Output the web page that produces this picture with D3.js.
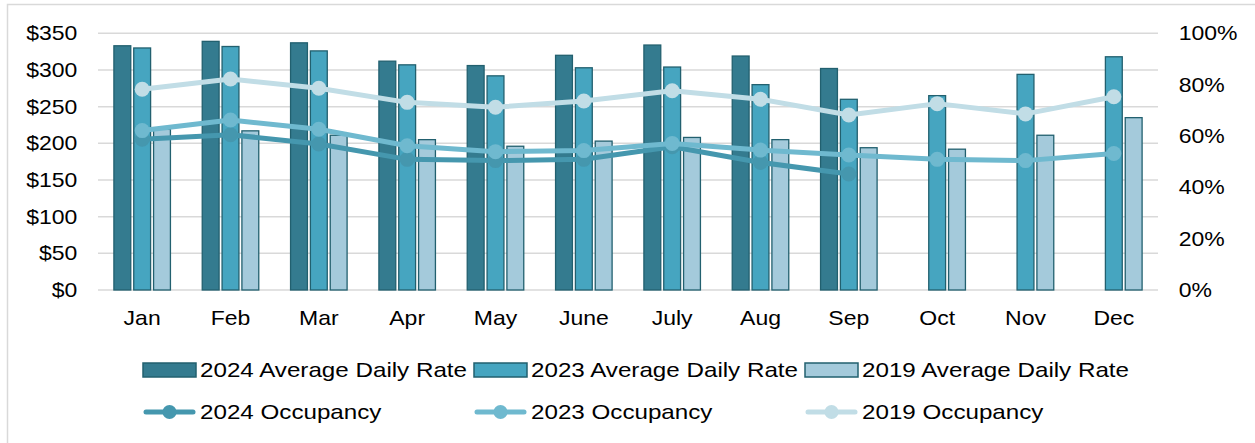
<!DOCTYPE html>
<html>
<head>
<meta charset="utf-8">
<script src="https://cdn.jsdelivr.net/npm/d3@7"></script>
<style>
  html, body { margin: 0; padding: 0; background: #fff; }
  svg { display: block; font-family: "Liberation Sans", Arial, sans-serif; }
  .axis path { display: none; }
  .axis text { font-size: 20px; fill: #000; }
</style>
</head>
<body>
<div id="chart"></div>
<script>
"use strict";

const months = ["Jan", "Feb", "Mar", "Apr", "May", "June", "July", "Aug", "Sep", "Oct", "Nov", "Dec"];

const adr2024 = [333, 339, 337, 312, 306, 320, 334, 319, 302, null, null, null];
const adr2023 = [330, 332, 326, 307, 292, 303, 304, 280, 260, 265, 294, 318];
const adr2019 = [219, 217, 211, 205, 196, 203, 208, 205, 194, 192, 211, 235];

const occ2024 = [0.587, 0.605, 0.569, 0.509, 0.504, 0.509, 0.558, 0.497, 0.452, null, null, null];
const occ2023 = [0.621, 0.662, 0.626, 0.562, 0.539, 0.543, 0.571, 0.545, 0.526, 0.509, 0.504, 0.532];
const occ2019 = [0.782, 0.822, 0.786, 0.731, 0.712, 0.736, 0.776, 0.743, 0.682, 0.726, 0.686, 0.753];

const rateTicks = [0, 50, 100, 150, 200, 250, 300, 350];
const occTicks = [0, 0.2, 0.4, 0.6, 0.8, 1.0];

const barSeries = [
  { name: "2024 Average Daily Rate", values: adr2024, color: "#347b8f" },
  { name: "2023 Average Daily Rate", values: adr2023, color: "#46a5c0" },
  { name: "2019 Average Daily Rate", values: adr2019, color: "#a4cadb" },
];

const lineSeries = [
  { name: "2024 Occupancy", values: occ2024, color: "#4597ae" },
  { name: "2023 Occupancy", values: occ2023, color: "#6fb9cf" },
  { name: "2019 Occupancy", values: occ2019, color: "#c1dde6" },
];

const W = 1255, H = 443;
const plotLeft = 98, plotRight = 1158, plotTop = 33.3, plotBottom = 290;
const stretch = "scale(1.15,1)";
const legendStretch = 1.18;

const svg = d3.select("#chart").append("svg")
  .attr("width", W)
  .attr("height", H);

svg.append("rect")
  .attr("x", 7.5).attr("y", 4.5)
  .attr("width", 1400).attr("height", 600)
  .attr("fill", "#fff")
  .attr("stroke", "#d9d9d9")
  .attr("stroke-width", 1.5);

const x0 = d3.scaleBand()
  .domain(months)
  .range([plotLeft, plotRight])
  .paddingInner(0.36)
  .paddingOuter(0.18);

const x1 = d3.scaleBand()
  .domain(barSeries.map(s => s.name))
  .range([0, x0.bandwidth()])
  .paddingInner(0.15);

const yRate = d3.scaleLinear().domain([0, 350]).range([plotBottom, plotTop]);
const yOcc = d3.scaleLinear().domain([0, 1]).range([plotBottom, plotTop]);

// gridlines
svg.append("g")
  .selectAll("line")
  .data(rateTicks)
  .enter()
  .append("line")
  .attr("x1", plotLeft).attr("x2", plotRight)
  .attr("y1", d => yRate(d)).attr("y2", d => yRate(d))
  .attr("stroke", "#d9d9d9")
  .attr("stroke-width", 1.5);

// bars
barSeries.forEach(s => {
  svg.append("g")
    .selectAll("rect")
    .data(months.map((m, i) => ({ month: m, v: s.values[i] })).filter(d => d.v !== null))
    .enter()
    .append("rect")
    .attr("x", d => x0(d.month) + x1(s.name))
    .attr("width", x1.bandwidth())
    .attr("y", d => yRate(d.v))
    .attr("height", d => plotBottom - yRate(d.v))
    .attr("fill", s.color)
    .attr("stroke", "#22606f")
    .attr("stroke-width", 1.3);
});

// occupancy lines
const cx = m => x0(m) + x0.bandwidth() / 2;

lineSeries.forEach(s => {
  const pts = months.map((m, i) => ({ month: m, v: s.values[i] })).filter(d => d.v !== null);
  const line = d3.line()
    .x(d => cx(d.month))
    .y(d => yOcc(d.v));

  svg.append("path")
    .datum(pts)
    .attr("d", line)
    .attr("fill", "none")
    .attr("stroke", s.color)
    .attr("stroke-width", 5)
    .attr("stroke-linejoin", "round")
    .attr("stroke-linecap", "round");

  svg.append("g")
    .selectAll("circle")
    .data(pts)
    .enter()
    .append("circle")
    .attr("cx", d => cx(d.month))
    .attr("cy", d => yOcc(d.v))
    .attr("r", 7.5)
    .attr("fill", s.color);
});

// axes
svg.append("g")
  .attr("class", "axis")
  .attr("transform", `translate(${plotLeft},0)`)
  .call(d3.axisLeft(yRate).tickValues(rateTicks).tickSize(0).tickPadding(18).tickFormat(d => "$" + d))
  .selectAll("text").attr("transform", stretch);

svg.append("g")
  .attr("class", "axis")
  .attr("transform", `translate(${plotRight},0)`)
  .call(d3.axisRight(yOcc).tickValues(occTicks).tickSize(0).tickPadding(18).tickFormat(d3.format(".0%")))
  .selectAll("text").attr("transform", stretch);

svg.append("g")
  .attr("class", "axis")
  .attr("transform", `translate(0,${plotBottom})`)
  .call(d3.axisBottom(x0).tickSize(0).tickPadding(21))
  .selectAll("text").attr("transform", stretch);

// legend
const legendX = [143, 474, 805];
const row1 = 370, row2 = 412;

barSeries.forEach((s, i) => {
  const g = svg.append("g").attr("transform", `translate(${legendX[i]},${row1})`);
  g.append("rect")
    .attr("x", 0).attr("y", -7)
    .attr("width", 53).attr("height", 14)
    .attr("fill", s.color)
    .attr("stroke", "#22606f")
    .attr("stroke-width", 1.5);
  g.append("text")
    .attr("x", 57 / legendStretch)
    .attr("dy", "0.35em")
    .attr("transform", `scale(${legendStretch},1)`)
    .attr("font-size", 20.5)
    .text(s.name);
});

lineSeries.forEach((s, i) => {
  const g = svg.append("g").attr("transform", `translate(${legendX[i]},${row2})`);
  g.append("line")
    .attr("x1", 3).attr("x2", 50)
    .attr("stroke", s.color)
    .attr("stroke-width", 5)
    .attr("stroke-linecap", "round");
  g.append("circle")
    .attr("cx", 26.5).attr("r", 7)
    .attr("fill", s.color);
  g.append("text")
    .attr("x", 57 / legendStretch)
    .attr("dy", "0.35em")
    .attr("transform", `scale(${legendStretch},1)`)
    .attr("font-size", 20.5)
    .text(s.name);
});
</script>
</body>
</html>
